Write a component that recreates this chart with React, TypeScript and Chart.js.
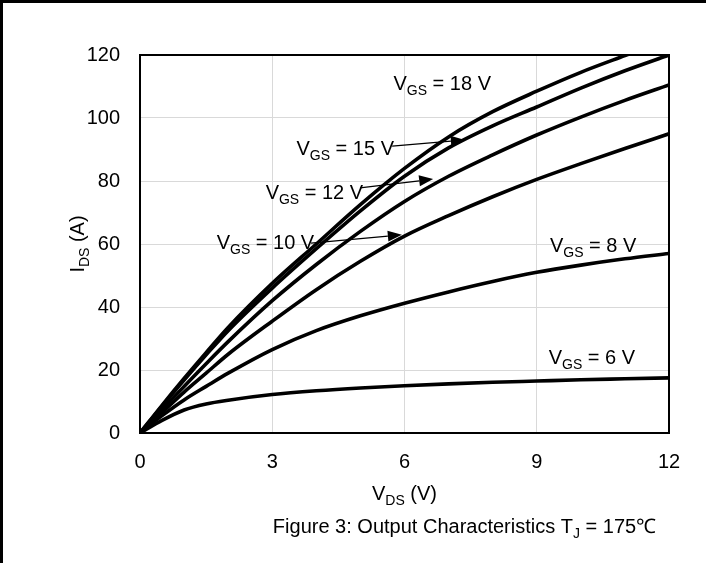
import React, { useEffect, useRef } from 'react';
import { Chart, registerables } from 'chart.js';

Chart.register(...registerables);

// ---- data ----
const VDS = [0, 0.5, 1, 1.5, 2, 3, 4, 5, 6, 7, 8, 9, 10, 11, 12];
const ID_VGS6 = [0, 4, 7.3, 9.2, 10.4, 12.2, 13.4, 14.3, 15.0, 15.6, 16.1, 16.5, 16.9, 17.2, 17.5];
const ID_VGS8 = [0, 5.5, 10.5, 14.8, 19, 26.5, 32.5, 37.2, 41.2, 44.8, 48.1, 51, 53.3, 55.3, 57];
const ID_VGS10 = [0, 6.5, 13, 19, 25, 35.5, 45.5, 54.5, 62.5, 69, 75, 80.5, 85.5, 90.3, 95];
const ID_VGS12 = [0, 7.5, 14.8, 22, 29, 42, 53.5, 64, 73.5, 81.5, 88.3, 94.6, 100.3, 105.6, 110.5];
const ID_VGS15 = [0, 8.5, 16.8, 24.8, 32.5, 46, 58.5, 70.5, 81.5, 90.5, 97.5, 103.5, 109.5, 115, 120];
const ID_VGS18 = [0, 8.8, 17.3, 25.5, 33.5, 47.5, 60, 72.5, 84, 94, 102, 108.5, 114.5, 119.8, 125];

const SERIES = [
  { name: 'VGS = 6 V', values: ID_VGS6 },
  { name: 'VGS = 8 V', values: ID_VGS8 },
  { name: 'VGS = 10 V', values: ID_VGS10 },
  { name: 'VGS = 12 V', values: ID_VGS12 },
  { name: 'VGS = 15 V', values: ID_VGS15 },
  { name: 'VGS = 18 V', values: ID_VGS18 },
];

const X_MIN = 0;
const X_MAX = 12;
const X_STEP = 3;
const Y_MIN = 0;
const Y_MAX = 120;
const Y_STEP = 20;

// curve labels: value after "V_GS", anchored in data units (left, baseline)
const LABEL_VALUES = ['18 V', '15 V', '12 V', '10 V', '8 V', '6 V'];
const LABEL_X = [5.75, 3.55, 2.85, 1.74, 9.3, 9.27];
const LABEL_Y = [108.9, 88.3, 74.3, 58.4, 57.5, 21.9];

// arrows in data units: from (tail) -> to (tip)
const ARROW_FROM_X = [5.72, 4.99, 3.88];
const ARROW_FROM_Y = [91.1, 77.8, 60.3];
const ARROW_TO_X = [7.37, 6.65, 5.94];
const ARROW_TO_Y = [93.0, 80.6, 62.9];

const FONT = '"Liberation Sans", Arial, Helvetica, sans-serif';
const FS = 20;

type Part = [string, boolean?];

function drawRich(
  ctx: CanvasRenderingContext2D,
  parts: Part[],
  x: number,
  y: number,
  size: number,
  align: 'left' | 'center',
) {
  const subSize = Math.round(size * 0.7);
  const widths = parts.map(([t, sub]) => {
    ctx.font = `${sub ? subSize : size}px ${FONT}`;
    return ctx.measureText(t).width;
  });
  const total = widths.reduce((a, b) => a + b, 0);
  let cx = align === 'center' ? x - total / 2 : x;
  ctx.textAlign = 'left';
  ctx.textBaseline = 'alphabetic';
  parts.forEach(([t, sub], i) => {
    ctx.font = `${sub ? subSize : size}px ${FONT}`;
    ctx.fillText(t, cx, sub ? y + size * 0.27 : y);
    cx += widths[i];
  });
}

const decorPlugin = {
  id: 'decor',
  beforeDatasetsDraw(chart: any) {
    const { ctx, chartArea } = chart;
    ctx.save();
    ctx.strokeStyle = '#000';
    ctx.lineWidth = 2;
    ctx.strokeRect(chartArea.left, chartArea.top, chartArea.right - chartArea.left, chartArea.bottom - chartArea.top);
    ctx.restore();
  },
  afterDraw(chart: any) {
    const { ctx, chartArea, scales } = chart;
    const xs = scales.x;
    const ys = scales.y;
    ctx.save();
    ctx.fillStyle = '#000';
    ctx.strokeStyle = '#000';

    // curve labels
    for (let i = 0; i < LABEL_VALUES.length; i++) {
      const px = xs.getPixelForValue(LABEL_X[i]);
      const py = ys.getPixelForValue(LABEL_Y[i]);
      drawRich(ctx, [['V'], ['GS', true], [' = ' + LABEL_VALUES[i]]], px, py, FS, 'left');
    }

    // arrows
    for (let i = 0; i < ARROW_FROM_X.length; i++) {
      const x1 = xs.getPixelForValue(ARROW_FROM_X[i]);
      const y1 = ys.getPixelForValue(ARROW_FROM_Y[i]);
      const x2 = xs.getPixelForValue(ARROW_TO_X[i]);
      const y2 = ys.getPixelForValue(ARROW_TO_Y[i]);
      const ang = Math.atan2(y2 - y1, x2 - x1);
      const hl = 14;
      const hw = 5.5;
      const bx = x2 - hl * Math.cos(ang);
      const by = y2 - hl * Math.sin(ang);
      ctx.lineWidth = 1.2;
      ctx.beginPath();
      ctx.moveTo(x1, y1);
      ctx.lineTo(bx, by);
      ctx.stroke();
      ctx.beginPath();
      ctx.moveTo(x2, y2);
      ctx.lineTo(bx + hw * Math.sin(ang), by - hw * Math.cos(ang));
      ctx.lineTo(bx - hw * Math.sin(ang), by + hw * Math.cos(ang));
      ctx.closePath();
      ctx.fill();
    }

    // axis titles
    const midX = (chartArea.left + chartArea.right) / 2;
    const midY = (chartArea.top + chartArea.bottom) / 2;
    drawRich(ctx, [['V'], ['DS', true], [' (V)']], midX, chartArea.bottom + 67, FS, 'center');
    ctx.save();
    ctx.translate(chartArea.left - 56, midY);
    ctx.rotate(-Math.PI / 2);
    drawRich(ctx, [['I'], ['DS', true], [' (A)']], 0, 0, FS, 'center');
    ctx.restore();

    // caption
    drawRich(
      ctx,
      [['Figure 3: Output Characteristics T'], ['J', true], [' = 175\u2103']],
      midX + 60,
      chartArea.bottom + 100,
      FS,
      'center',
    );

    // outer frame (top and left edges)
    ctx.fillRect(0, 0, chart.width, 3);
    ctx.fillRect(0, 0, 3, chart.height);
    ctx.restore();
  },
};

export default function App() {
  const ref = useRef<HTMLCanvasElement | null>(null);

  useEffect(() => {
    const prevMargin = document.body.style.margin;
    document.body.style.margin = '0';
    const canvas = ref.current;
    if (!canvas) return;
    const chart = new Chart(canvas, {
      type: 'line',
      data: {
        datasets: SERIES.map((s) => ({
          label: s.name,
          data: VDS.map((v, i) => ({ x: v, y: s.values[i] })),
          borderColor: '#000',
          borderWidth: 3.6,
          pointRadius: 0,
          fill: false,
          cubicInterpolationMode: 'monotone' as const,
        })),
      },
      options: {
        animation: false,
        responsive: false,
        devicePixelRatio: 1,
        layout: { padding: { top: 55, right: 37, left: 0, bottom: 0 } },
        plugins: {
          legend: { display: false },
          tooltip: { enabled: false },
        },
        scales: {
          x: {
            type: 'linear',
            min: X_MIN,
            max: X_MAX,
            afterFit: (s: any) => {
              s.height = 130;
            },
            ticks: {
              stepSize: X_STEP,
              color: '#000',
              padding: 17,
              font: { family: FONT, size: FS },
            },
            grid: { color: '#d9d9d9', lineWidth: 1, drawTicks: false },
            border: { display: false },
          },
          y: {
            type: 'linear',
            min: Y_MIN,
            max: Y_MAX,
            afterFit: (s: any) => {
              s.width = 140;
            },
            ticks: {
              stepSize: Y_STEP,
              color: '#000',
              padding: 20,
              font: { family: FONT, size: FS },
            },
            grid: { color: '#d9d9d9', lineWidth: 1, drawTicks: false },
            border: { display: false },
          },
        },
      },
      plugins: [decorPlugin],
    });
    return () => {
      chart.destroy();
      document.body.style.margin = prevMargin;
    };
  }, []);

  return (
    <div style={{ position: 'absolute', left: 0, top: 0, width: 706, height: 563, background: '#fff' }}>
      <canvas ref={ref} width={706} height={563} />
    </div>
  );
}
